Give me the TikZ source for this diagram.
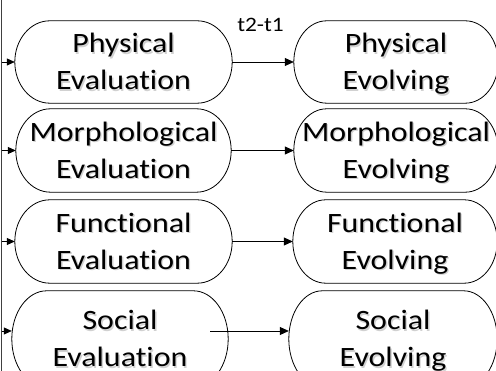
\documentclass[tikz,border=0pt]{standalone}
\usepackage{fontspec}
\setmainfont{Carlito}[FakeStretch=1.14, Ligatures={NoCommon,NoRare}]
\usetikzlibrary{arrows.meta,calc}
\newcommand\shd[1]{\rlap{\kern1.4pt\raisebox{-1.4pt}{\textcolor{black!18}{#1}}}#1}
\newcommand\twolines[2]{\vbox{\halign{\hfil##\hfil\cr\rule{0pt}{27pt}\shd{#1}\cr\rule[-8pt]{0pt}{8pt}\shd{#2}\cr}}}
\begin{document}
\begin{tikzpicture}[x=1pt,y=1pt,
  term/.style={inner sep=0pt, font=\fontsize{28}{37}\selectfont},
  arr/.style={-{Triangle[length=9pt,width=8pt]}, line width=0.8pt},
  arrin/.style={-{Triangle[length=8pt,width=7pt]}, line width=0.8pt},
  outline/.style={line width=0.8pt},
  bar/.style={line width=1.3pt, black!75},
  lbl/.style={font=\fontsize{20.5}{24}\selectfont, inner sep=0pt}]
\useasboundingbox (0,0) rectangle (496,371);
% nodes
\node[term, minimum width=217pt, minimum height=82pt] (PE) at (123.5,309) {\twolines{Physical}{Evaluation}};
\node[term, minimum width=204pt, minimum height=82pt] (PV) at (396,309) {\twolines{Physical}{Evolving}};
\node[term, minimum width=215pt, minimum height=83pt] (ME) at (123.5,220.5) {\twolines{Morphological}{Evaluation}};
\node[term, minimum width=204pt, minimum height=83pt] (MV) at (396,220.5) {\twolines{Morphological}{Evolving}};
\node[term, minimum width=217pt, minimum height=83pt] (FE) at (123.5,129.5) {\twolines{Functional}{Evaluation}};
\node[term, minimum width=204pt, minimum height=83pt] (FV) at (395,129.5) {\twolines{Functional}{Evolving}};
\node[term, minimum width=216pt, minimum height=96pt] (SE) at (120,32) {\twolines{Social}{Evaluation}};
\node[term, minimum width=208pt, minimum height=96pt] (SV) at (393,32) {\twolines{Social}{Evolving}};
% outlines (terminator shape: elliptic ends)
\foreach \nd in {PE,PV,ME,MV,FE,FV,SE,SV}{
  \draw[outline] let \p1=(\nd.north east), \p2=(\nd.south west),
      \n1={abs(\y1-\y2)/2}, \n2={0.161*abs(\x1-\x2)} in
    ([xshift=\n2]\nd.north west) -- ([xshift=-\n2]\nd.north east)
    arc[start angle=90, end angle=-90, x radius=\n2, y radius=\n1]
    -- ([xshift=\n2]\nd.south west)
    arc[start angle=270, end angle=90, x radius=\n2, y radius=\n1] -- cycle;
}
% label
\node[lbl, anchor=base] (dt) at (260.5,339) {t2-t1};
% left bar
\coordinate (bt) at (1.5,371);
\coordinate (bb) at (1.5,0);
\draw[bar] (bt) -- (bb);
\coordinate (sein) at ([yshift=8pt]SE.west);
\coordinate (seout) at ([xshift=-18pt,yshift=8pt]SE.east);
\coordinate (svin) at ([yshift=8pt]SV.west);
% arrows
\draw[arrin] (bt |- PE.west) -- (PE.west);
\draw[arrin] (bt |- ME.west) -- (ME.west);
\draw[arrin] (bt |- FE.west) -- (FE.west);
\draw[arrin] (bt |- sein) -- (sein);
\draw[arr] (PE.east) -- (PV.west);
\draw[arr] (ME.east) -- (MV.west);
\draw[arr] (FE.east) -- (FV.west);
\draw[arr] (seout) -- (svin);
\end{tikzpicture}
\end{document}
